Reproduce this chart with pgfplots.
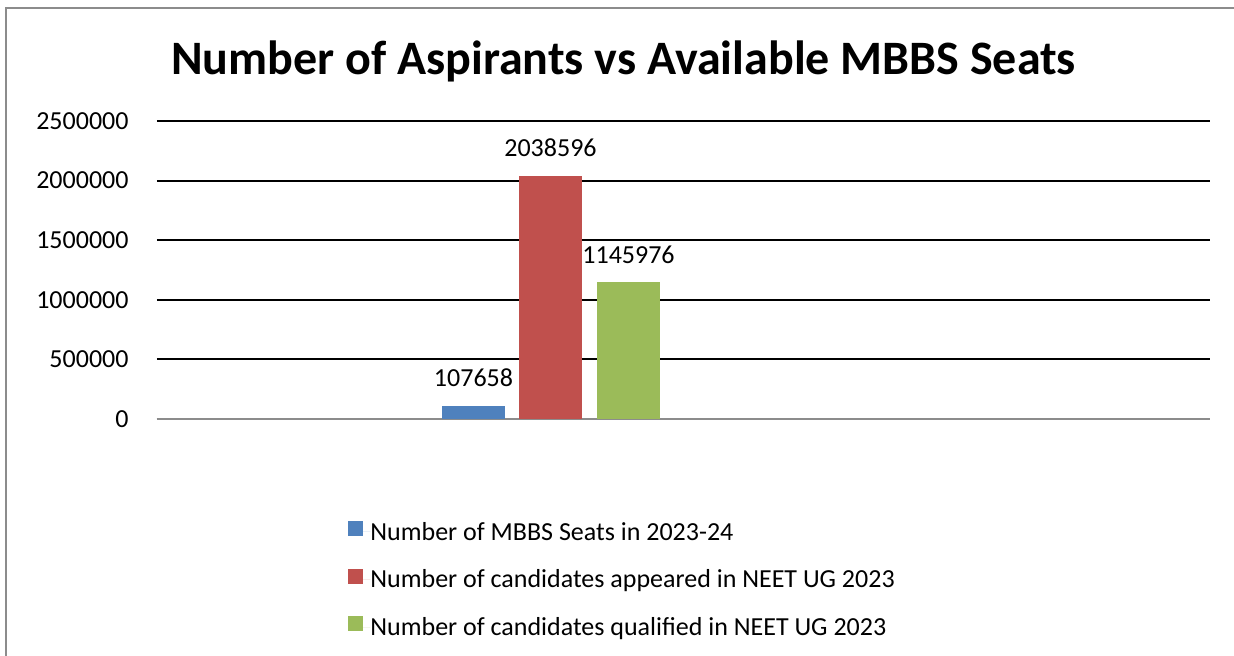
\documentclass[border=0pt]{standalone}
\usepackage{fontspec}
\setmainfont{Carlito}
\usepackage{pgfplots}
\pgfplotsset{compat=1.18}
\definecolor{sblue}{HTML}{4F81BD}
\definecolor{sred}{HTML}{C0504D}
\definecolor{sgreen}{HTML}{9BBB59}
\definecolor{framegray}{HTML}{8C8C8C}
\begin{document}
\fontsize{13pt}{15.6pt}\selectfont
\begin{tikzpicture}
\path[use as bounding box] (-78.5pt,-118pt) rectangle (538.5pt,209.5pt);
\begin{scope}
\clip (-78.5pt,-118pt) rectangle (538.5pt,209.5pt);
\draw[framegray, line width=1pt] (-75.25pt,-140pt) -- (-75.25pt,205.5pt) -- (570pt,205.5pt);
\end{scope}
\begin{axis}[
  scale only axis,
  width=526.5pt, height=149pt,
  xmin=0, xmax=1053,
  ymin=0, ymax=2500000,
  ytick={0,500000,1000000,1500000,2000000,2500000},
  xtick=\empty,
  scaled y ticks=false,
  /pgf/number format/.cd, fixed, 1000 sep={}, assume math mode=true, /pgfplots/.cd,
  axis lines*=left,
  y axis line style={draw=none},
  x axis line style={framegray, line width=1.3pt, -},
  ytick style={draw=none},
  major tick length=0pt,
  ymajorgrids,
  grid style={black, line width=1pt},
  yticklabel style={font=\fontsize{13pt}{15.6pt}\selectfont, xshift=-9.7pt},
  nodes near coords,
  every node near coord/.append style={font=\fontsize{13pt}{15.6pt}\selectfont, yshift=5pt, text=black},
  clip=false,
  legend cell align=left,
  legend style={at={(0.1814,-0.3403)}, anchor=north west, draw=none, fill=none,
    inner sep=0pt, row sep=14.25pt,
    font=\fontsize{13pt}{15.6pt}\selectfont,
    nodes={inner sep=0pt, text height=8.4pt, text depth=0pt}},
  legend image code/.code={\fill[#1] (0pt,-2.05pt) rectangle (7.5pt,5.45pt); \path (0pt,0pt) -- (11pt,0pt);},
]
\addplot[ybar, bar width=63, bar shift=0pt, fill=sblue, draw=none] coordinates {(316.5,107658)};
\addlegendentry{Number of MBBS Seats in 2023-24}
\addplot[ybar, bar width=63, bar shift=0pt, fill=sred, draw=none] coordinates {(393.5,2038596)};
\addlegendentry{Number of candidates appeared in NEET UG 2023}
\addplot[ybar, bar width=63, bar shift=0pt, fill=sgreen, draw=none] coordinates {(471.5,1145976)};
\addlegendentry{Number of candidates qualified in NEET UG 2023}
\end{axis}
\node[anchor=base, font=\fontsize{24pt}{28.8pt}\selectfont\bfseries] at (233.25pt,172.5pt) {Number of Aspirants vs Available MBBS Seats};
\end{tikzpicture}
\end{document}
